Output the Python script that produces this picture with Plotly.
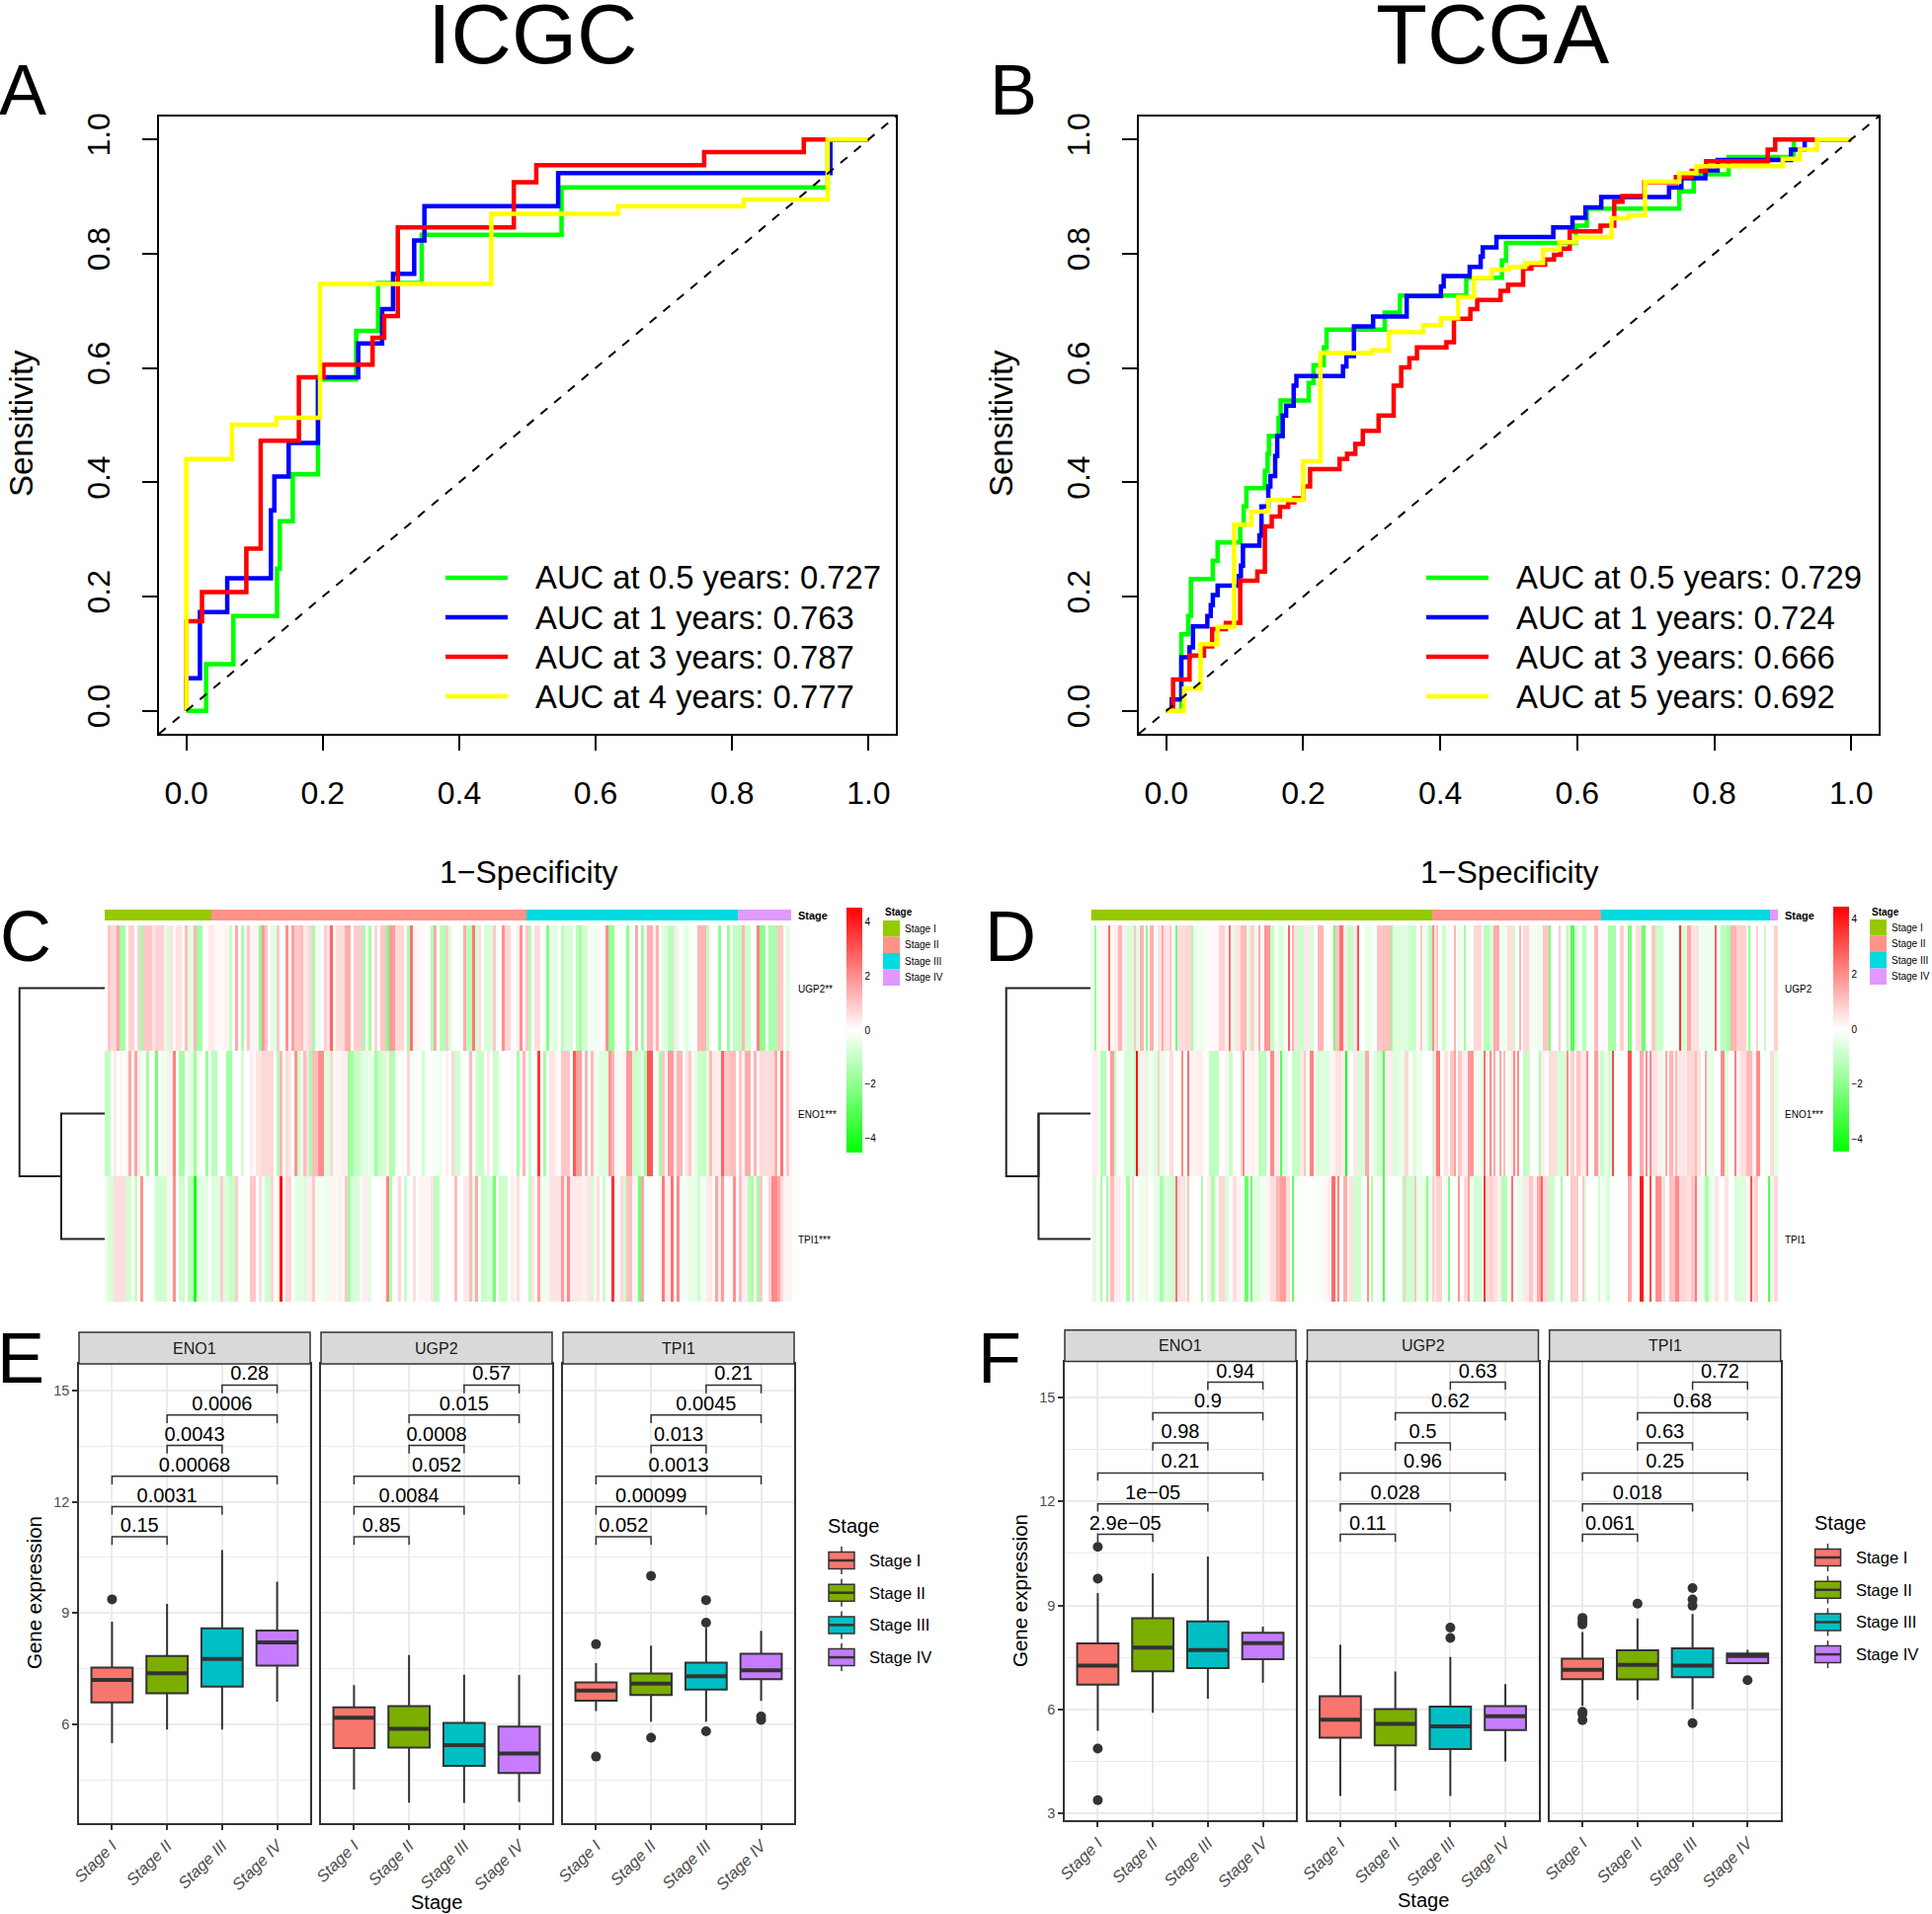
import plotly.graph_objects as go

W, H = 1956, 1938
FONT = "Liberation Sans"

# ---------- ROC data (false positive rate, sensitivity) ----------
a_g_x = [0,.029,.069,.133,.137,.156,.193,.249,.281,.345,.55,.94,1]
a_g_y = [0,.082,.166,.249,.332,.414,.58,.665,.749,.833,.916,1,1]
a_b_x = [0,0,.020,.060,.124,.129,.150,.193,.252,.287,.303,.334,.349,.545,.944,1]
a_b_y = [0,.057,.173,.232,.351,.410,.469,.584,.643,.703,.765,.823,.883,.941,1,1]
a_r_x = [0,0,.023,.088,.109,.165,.201,.273,.290,.310,.480,.513,.759,.905,1]
a_r_y = [0,.157,.208,.284,.473,.584,.606,.653,.691,.846,.925,.955,.978,1,1]
a_y_x = [0,0,.067,.132,.196,.447,.633,.817,.940,1]
a_y_y = [0,.441,.501,.513,.747,.870,.883,.895,1,1]

b_g_x = [0,.022,.032,.036,.068,.075,.108,.113,.117,.144,.148,.150,.164,.167,.208,.215,.230,.234,.319,.341,.438,.490,.496,.598,.614,.749,.770,.821,.916,1]
b_g_y = [0,.134,.166,.231,.263,.295,.326,.358,.390,.420,.450,.481,.513,.543,.574,.605,.636,.667,.697,.727,.758,.788,.819,.849,.879,.909,.939,.969,1,1]
b_b_x = [0,.008,.022,.034,.039,.060,.065,.068,.075,.106,.109,.112,.136,.139,.149,.152,.159,.162,.170,.175,.186,.190,.258,.263,.274,.302,.351,.401,.405,.443,.459,.462,.482,.565,.593,.612,.635,.734,.752,.787,.805,.912,.932,1]
b_b_y = [0,.020,.094,.111,.148,.166,.185,.203,.219,.236,.254,.289,.307,.358,.393,.411,.446,.481,.517,.534,.569,.586,.603,.621,.673,.690,.726,.743,.761,.777,.795,.811,.829,.846,.863,.881,.899,.916,.932,.946,.964,.982,1,1]
b_r_x = [0,.010,.034,.055,.067,.087,.108,.133,.144,.154,.166,.178,.187,.200,.210,.253,.264,.276,.287,.310,.332,.343,.355,.366,.409,.420,.444,.454,.488,.499,.521,.533,.553,.566,.576,.589,.634,.654,.666,.698,.744,.767,.788,.878,.889,1]
b_r_y = [0,.055,.097,.113,.143,.154,.228,.244,.323,.340,.357,.365,.372,.393,.423,.441,.450,.467,.490,.517,.569,.601,.617,.636,.645,.686,.703,.719,.735,.746,.774,.781,.790,.798,.809,.839,.849,.891,.901,.925,.934,.945,.962,.982,1,1]
b_y_x = [0,.026,.050,.075,.099,.124,.149,.200,.225,.300,.325,.375,.401,.426,.449,.475,.500,.524,.550,.574,.598,.650,.675,.699,.749,.774,.900,.925,.950,1]
b_y_y = [0,.039,.117,.147,.326,.349,.369,.437,.626,.631,.663,.675,.687,.724,.758,.772,.777,.784,.807,.820,.829,.862,.867,.926,.941,.953,.966,.982,1,1]

roc_colors = ["#00FF00", "#0000FF", "#FF0000", "#FFFF00"]
a_legend = ["AUC at 0.5 years: 0.727", "AUC at 1 years: 0.763", "AUC at 3 years: 0.787", "AUC at 4 years: 0.777"]
b_legend = ["AUC at 0.5 years: 0.729", "AUC at 1 years: 0.724", "AUC at 3 years: 0.666", "AUC at 5 years: 0.692"]

# ---------- Heat map C: (number of samples, z-score), left and right halves ----------
c_ugp2_a = [(1,0),(1,1.0),(2,.7),(1,1.6),(2,-1.6),(1,.1),(2,.8),(1,0),(1,.8),(1,-1.6),(3,1.0),(1,.5),(3,.8),(1,.3),(1,-.8),(1,.5),(1,.1),(2,.5),(1,.1),(1,1.2),(2,-.5),(1,1.3),(2,-1.6),(2,0),(2,.4),(3,.1),(2,.2),(1,-1),(1,0),(1,1.5),(1,0),(1,-1.5),(1,.1),(1,1.0),(3,.2),(1,-2),(1,1.8),(1,1.0),(1,0),(2,-.5),(1,1.0),(2,0),(1,2),(1,.2),(1,1.7),(2,1.0),(1,1.2),(1,.4),(1,.5),(1,.8),(1,-1.6),(1,0),(1,-.3),(1,0),(1,.9),(1,.5),(1,2.7),(1,-.3),(3,.6),(2,1.5),(1,0),(3,.9),(1,-1.6),(1,0),(1,-1.6),(1,0),(1,.8),(1,0),(2,1.0),(1,-2.2),(2,1.8),(3,.7),(1,0),(1,-1.5),(1,2.5),(2,.2),(2,.1),(2,0),(1,-1.3),(1,1.5),(1,0),(2,-1.3),(1,.9)]
c_eno1_a = [(2,-1.1),(1,0),(1,.4),(1,0),(1,.2),(1,0),(1,.2),(1,1.5),(1,.1),(1,1.6),(1,.3),(1,-.3),(1,.1),(1,-1.6),(2,-.1),(1,-2.5),(1,0),(2,-.3),(2,.3),(1,2.3),(1,0),(2,-1.6),(1,0),(2,-.5),(1,-1.8),(1,-.3),(2,0),(1,-1.8),(1,0),(2,-1.2),(3,0),(2,-1.6),(1,-.2),(2,0),(1,-.8),(2,0),(1,.3),(1,.1),(2,.5),(4,.7),(1,0),(1,-1.3),(1,1.3),(1,.1),(1,.6),(1,.4),(1,0),(1,1.9),(1,-1),(1,.2),(1,1.2),(1,.6),(1,-1.6),(2,1.2),(2,2.0),(2,-.6),(1,.7),(1,-.3),(2,.2),(2,.3),(2,-1.7),(2,-1),(1,-.7),(2,-.5),(2,-.4),(1,-1.7),(1,-1),(2,-.8),(1,.3),(2,-1.4),(2,-.1),(1,.1),(1,0),(1,.8),(1,-.2),(3,-.1),(1,-.8),(3,-.05),(2,-.2),(1,-.3),(1,0),(1,.3)]
c_tpi1_a = [(1,-.3),(2,-.7),(4,.6),(2,-.8),(1,.1),(1,-1),(1,0),(1,2),(4,-.1),(4,-.8),(2,.2),(1,2),(1,0),(2,-.9),(1,.1),(2,-1.2),(1,-4.2),(1,-.6),(3,-.5),(1,0),(3,-.6),(1,.9),(2,-.6),(2,-1),(1,.9),(1,.1),(1,0),(2,-.1),(2,1),(1,0),(1,.6),(1,-.2),(2,-.9),(1,.8),(1,0),(1,.2),(1,4.4),(1,.1),(2,.8),(1,-.1),(3,-.5),(1,-.7),(2,.3),(1,1),(3,-.2),(2,-.3),(2,.2),(1,-.2),(1,.3),(1,.1),(1,1),(1,-1.6),(3,-.7),(1,-.2),(2,.3),(1,-.6),(3,0),(2,.1),(1,2.2),(1,-1.5),(1,0),(1,.1),(1,.7),(1,0),(1,-1),(2,0),(1,.6),(1,0),(4,.2),(1,.5),(2,-1.2),(2,0),(1,.1)]
c_ugp2_b = [(1,-.6),(3,-.1),(1,-.1),(1,1.5),(2,-1.2),(1,2.4),(1,-.8),(1,.6),(1,0),(3,-.7),(1,1),(2,0),(1,2),(2,.7),(2,0),(1,.3),(1,2),(1,0),(1,1),(1,-1.3),(1,0),(2,.6),(1,0),(1,-.2),(1,-2.2),(1,-.2),(2,-.5),(1,0),(1,-1.2),(3,-.7),(1,0),(1,-1.2),(1,-1.6),(2,-.8),(1,.1),(3,-.2),(2,.1),(1,2),(2,-1.9),(1,-.2),(1,0),(2,-.1),(1,-2),(1,-.3),(1,0),(1,1.6),(1,0),(1,-1.7),(1,.2),(2,1.4),(1,.3),(1,1.4),(1,0),(2,-.6),(2,-1.2),(1,.4),(1,-.4),(1,0),(1,-.3),(1,-.6),(3,-.1),(3,1.3),(1,-1.2),(1,.2),(2,0),(1,-2),(2,0),(1,-1.8),(1,-.2),(3,-1.1),(1,1.3),(2,-.9),(2,0),(1,2.2),(2,-2),(1,0),(3,-1.5),(2,1),(1,-.1),(1,-.6),(1,-.1)]
c_eno1_b = [(1,0),(1,.7),(2,-.8),(3,-.1),(1,1.2),(1,-.1),(1,-.7),(2,-1),(1,0),(1,.4),(1,-.1),(2,-.9),(4,0),(1,.2),(1,0),(1,-1.6),(1,0),(1,1.3),(1,0),(1,-1),(2,0),(1,3.5),(1,-.1),(1,-1.6),(1,0),(2,.5),(2,.1),(3,1),(1,0),(1,3),(2,1.7),(1,0),(1,1.4),(1,0),(1,1.2),(2,-.3),(3,-.6),(1,1.9),(1,1.3),(1,.2),(2,-.2),(1,.2),(2,1.8),(3,-.9),(1,-.3),(1,-1.6),(2,3),(1,0),(1,.2),(1,-1.6),(1,1),(1,.2),(2,1.8),(1,.3),(2,1.3),(1,-.1),(1,.5),(1,1),(1,-.2),(1,-.5),(3,-1),(1,-.5),(1,1.2),(2,.4),(1,.3),(1,2.8),(2,1),(2,1.2),(1,0),(1,1),(1,.2),(2,1.5),(1,0),(1,1.3),(1,.2),(5,.6),(1,1.5),(1,0),(1,2.5),(1,0),(1,1),(1,.2)]
c_tpi1_b = [(2,0),(1,1.2),(2,0),(2,.4),(1,1.2),(1,-.6),(1,1.5),(1,0),(2,-1),(2,-.7),(1,-2.5),(1,.1),(3,-.9),(1,0),(1,.3),(1,.2),(1,.6),(1,.1),(2,0),(1,-1.2),(1,.5),(1,0),(1,1.7),(3,-.3),(4,.5),(1,1.8),(1,.3),(1,2.1),(4,.4),(2,.3),(1,.5),(1,-.8),(1,.2),(1,.6),(1,0),(1,-1),(2,0),(1,3.7),(2,.1),(1,.7),(1,-.9),(2,1.1),(1,.2),(1,-.3),(1,-2.5),(1,1.6),(5,-.05),(1,-.2),(1,2.4),(2,.3),(1,2.5),(1,.1),(1,2.1),(3,-.2),(3,-.4),(1,-1),(2,-.2),(2,.4),(1,-.2),(1,1.6),(1,.3),(1,1.8),(3,.1),(1,2),(1,.1),(1,1.2),(2,.3),(1,-1.3),(1,-1.5),(1,.3),(1,-1.6),(1,1),(2,0),(1,.8),(2,2.1),(1,1.6),(1,.7),(3,.2)]
c_half = 116
c_stage_counts = [36, 106, 71, 18]
c_genes = ["UGP2**", "ENO1***", "TPI1***"]
c_merge_height = .51

# ---------- Heat map D: (last sample of the run, z-score), left and right halves ----------
d_ugp2_a = [(2,-.3),(3,-1.8),(5,-.1),(9,.2),(10,2.7),(12,-.2),(14,.3),(16,1.3),(18,.3),(22,-.7),(23,1),(25,-.5),(27,1.3),(28,-.2),(29,-2),(30,0),(32,1.4),(34,-.2),(36,.5),(37,1.5),(40,.5),(41,1),(43,.1),(44,-2.3),(48,.6),(51,.7),(52,-1.5),(58,-.3),(65,.1),(68,.8),(70,.3),(71,2.5),(73,-.4),(76,.5),(79,1.2),(81,-.5),(83,.8),(85,-.3),(86,1.5),(88,.1),(91,1.8),(93,-1),(95,-.2),(98,-.6),(100,-.1),(101,2.8),(102,0),(103,1.4),(105,.5),(108,-.9),(111,.4),(113,-.7),(115,.1),(118,1.3),(122,0),(123,.3),(124,-2.3),(126,1),(128,2.5),(130,.3),(133,-1),(135,.4),(136,3),(139,0),(142,-.4),(145,-.1),(148,1.0),(152,1.1),(153,-1.8),(155,-.5),(161,-.6),(165,-.9),(167,.1),(168,1),(171,-.3),(173,-1.2),(174,2)]
d_eno1_a = [(1,0),(4,.3),(5,-.1),(8,-1.3),(10,0),(12,1.7),(13,-1),(17,0),(20,-.7),(22,-.5),(23,-1),(24,4.2),(25,-.6),(28,.3),(29,-.7),(32,-.3),(34,-.6),(35,.8),(38,-.4),(40,0),(42,.6),(46,-.1),(47,2),(49,0),(50,2.5),(53,.2),(57,.3),(60,.05),(65,-1.1),(68,0),(70,.2),(72,-1),(76,0),(77,.8),(78,2),(79,-.2),(82,.2),(83,.3),(85,.1),(89,-1.1),(91,-.1),(93,2),(96,.3),(97,-3),(100,-.5),(102,0),(106,-1),(108,.4),(109,1),(111,-.3),(113,2.2),(114,.1),(121,-.6),(124,.2),(127,.5),(129,.3),(130,-4.4),(133,0),(135,.4),(139,-.7),(141,1.5),(143,.1),(145,-.5),(148,-.9),(149,-3),(153,.3),(156,-.6),(159,-.4),(161,.7),(163,-.1),(165,-.6),(168,-.3),(173,0),(174,-.8)]
d_tpi1_a = [(1,0),(3,-.6),(5,0),(6,-1.5),(8,0),(9,-1.6),(10,.3),(12,1.2),(15,.3),(18,.1),(20,-1.6),(21,.1),(22,.8),(24,0),(28,-.3),(29,.3),(32,-.1),(35,-.4),(37,-1.5),(40,-.6),(43,-.8),(44,2.5),(48,.5),(49,-.5),(50,1),(53,-.1),(56,0),(57,-1.5),(59,0),(61,.3),(63,-1.4),(65,-.2),(68,.7),(70,-.7),(72,-.1),(74,.6),(76,.2),(78,-.2),(80,-2.6),(81,0),(82,-2.5),(86,-.5),(89,-.2),(91,.2),(94,.6),(96,1.3),(99,1.7),(101,.6),(102,0),(103,-2.8),(108,-.1),(114,0),(117,-.1),(120,.1),(122,.3),(124,2.6),(125,.3),(126,2.2),(128,0),(130,1.4),(131,-.3),(133,.5),(137,-.8),(140,-.2),(141,2),(142,-.3),(143,-1.4),(145,.1),(148,-.2),(149,-3),(153,-.1),(158,-.05),(159,-1.5),(160,.7),(164,-.8),(165,1),(170,-.4),(171,-2),(173,-.3),(174,.8)]
d_ugp2_b = [(1,.5),(2,1),(4,-.1),(6,-.9),(7,.1),(8,-.3),(10,.1),(11,1.3),(12,0),(13,-.5),(15,.1),(16,-1.7),(20,-.1),(24,.7),(25,-.2),(28,-1.2),(30,-.7),(33,1.5),(34,0),(37,-.3),(40,.6),(41,-.9),(43,0),(44,1.3),(45,0),(48,.7),(49,.2),(52,-.2),(55,-.3),(58,1),(59,-2.3),(63,0),(64,.9),(67,-.1),(68,-1.2),(69,.3),(71,-3),(73,-.6),(75,-.2),(77,-1.2),(80,-.2),(81,0),(83,1.2),(88,.1),(92,-1.5),(94,0),(96,.8),(98,.1),(100,-2.3),(102,0),(105,.6),(107,-2.5),(110,0),(112,1),(116,-.9),(124,-.1),(125,3.5),(128,-.7),(130,1.5),(134,.5),(142,-.3),(143,2.8),(145,-.2),(148,-1.2),(150,-1.5),(153,1.3),(158,.8),(159,0),(160,-2),(163,-.1),(164,.8),(167,0),(168,-1),(172,0),(174,.8)]
d_eno1_b = [(1,.5),(3,2.3),(5,0),(7,.5),(8,.1),(10,1),(11,1.7),(12,0),(14,1),(17,.3),(20,1.8),(21,-.2),(25,-.3),(26,2.5),(28,.2),(29,2),(30,.3),(31,1.5),(33,0),(34,1.5),(35,0),(36,1.2),(39,-.2),(40,.5),(41,2),(42,.1),(43,2),(45,0),(48,-1.1),(49,.3),(50,0),(53,-.1),(54,-1.5),(56,.3),(58,0),(62,.6),(67,-.7),(68,2),(69,.1),(71,.8),(72,-.1),(74,1),(77,.4),(78,2),(81,-.1),(83,1.7),(84,.3),(86,-.9),(88,-.4),(90,-.7),(91,3.2),(98,0),(100,3),(104,0),(106,1.5),(107,.3),(108,2),(109,0),(110,2.1),(113,.5),(115,.3),(117,-.3),(118,1.5),(119,.1),(121,1.3),(122,.3),(123,1.2),(128,.4),(132,.7),(133,1.2),(135,.5),(137,0),(138,1.5),(142,-.4),(145,0),(147,2),(149,-.5),(152,0),(153,2.2),(155,.2),(158,.6),(161,1.2),(162,.3),(163,0),(165,2),(170,-.1),(172,.6),(174,-.5)]
d_tpi1_b = [(1,.4),(4,.8),(6,-.2),(7,.2),(8,-2.2),(9,0),(12,-.1),(13,1.8),(15,0),(17,.7),(18,1.7),(20,-.3),(24,-.8),(25,.3),(26,3.5),(28,.6),(30,.8),(32,.5),(34,.3),(37,-1.3),(39,-.2),(40,2.5),(42,0),(45,-.4),(48,.4),(50,1),(52,.3),(54,1.5),(55,2.8),(58,.6),(61,-.9),(64,-.1),(65,-1.5),(69,-.1),(73,.9),(75,0),(76,1),(77,-.6),(79,-.1),(83,0),(84,-.9),(87,-.2),(89,-.7),(92,-.05),(98,0),(100,1.5),(104,-.1),(106,4),(109,.1),(110,3.2),(112,0),(115,2),(117,.6),(119,0),(122,1.1),(124,2),(128,.7),(130,.5),(132,1),(133,2.3),(135,.2),(137,-.4),(139,-1.5),(142,-.3),(144,.5),(147,0),(149,.5),(152,0),(154,-.7),(158,-.6),(160,.1),(161,3),(162,.4),(164,.8),(169,0),(170,-3),(172,-.3),(174,.7)]
d_stage_counts = [172, 85, 85, 4]
d_genes = ["UGP2", "ENO1***", "TPI1"]
d_merge_height = .616

stage_heat_colors = ["#96CA00", "#FF9289", "#00DAE0", "#E199FF"]
stages = ["Stage I", "Stage II", "Stage III", "Stage IV"]
box_colors = ["#F8766D", "#7CAE00", "#00BFC4", "#C77CFF"]
genes = ["ENO1", "UGP2", "TPI1"]

# ---------- Box plots: per gene, per stage (q1, median, q3, low whisker, high whisker) ----------
e_q1  = {"ENO1":[6.59,6.84,7.02,7.58], "UGP2":[5.36,5.37,4.88,4.69], "TPI1":[6.64,6.79,6.94,7.22]}
e_med = {"ENO1":[7.20,7.38,7.76,8.21], "UGP2":[6.18,5.88,5.44,5.21], "TPI1":[6.91,7.10,7.30,7.46]}
e_q3  = {"ENO1":[7.53,7.84,8.59,8.53], "UGP2":[6.46,6.49,6.04,5.94], "TPI1":[7.13,7.37,7.66,7.90]}
e_lo  = {"ENO1":[5.49,5.86,5.86,6.61], "UGP2":[4.24,3.89,3.88,3.91], "TPI1":[6.36,6.07,6.07,6.63]}
e_hi  = {"ENO1":[8.77,9.25,10.70,9.85], "UGP2":[7.06,7.87,7.34,7.33], "TPI1":[7.65,8.12,8.60,8.52]}
e_out = {"ENO1":[[9.37],[],[],[]], "UGP2":[[],[],[],[]], "TPI1":[[8.16,5.13],[10.0,5.64],[9.35,8.74,5.81],[6.21,6.12]]}
e_pvals = {"ENO1":["0.15","0.0031","0.00068","0.0043","0.0006","0.28"],
           "UGP2":["0.85","0.0084","0.052","0.0008","0.015","0.57"],
           "TPI1":["0.052","0.00099","0.0013","0.013","0.0045","0.21"]}
e_bracket_y = [11.06,11.87,12.69,13.52,14.34,15.15]

f_q1  = {"ENO1":[6.71,7.10,7.19,7.45], "UGP2":[5.18,4.96,4.85,5.40], "TPI1":[6.87,6.86,6.93,7.33]}
f_med = {"ENO1":[7.26,7.78,7.71,7.91], "UGP2":[5.70,5.58,5.51,5.80], "TPI1":[7.14,7.28,7.26,7.54]}
f_q3  = {"ENO1":[7.90,8.63,8.54,8.21], "UGP2":[6.38,6.01,6.08,6.09], "TPI1":[7.46,7.70,7.76,7.61]}
f_lo  = {"ENO1":[5.38,5.90,6.31,6.77], "UGP2":[3.50,3.65,3.50,4.50], "TPI1":[6.10,6.27,6.00,7.33]}
f_hi  = {"ENO1":[9.36,9.93,10.41,8.39], "UGP2":[7.87,7.09,7.51,6.73], "TPI1":[8.23,8.62,8.75,7.72]}
f_out = {"ENO1":[[10.69,9.77,4.87,3.38],[],[],[]], "UGP2":[[],[],[8.36,8.06],[]],
         "TPI1":[[8.64,8.53,8.45,5.93,5.87,5.69],[9.05],[9.50,9.17,8.99,5.60],[6.84]]}
f_pvals = {"ENO1":["2.9e\u221205","1e\u221205","0.21","0.98","0.9","0.94"],
           "UGP2":["0.11","0.028","0.96","0.5","0.62","0.63"],
           "TPI1":["0.061","0.018","0.25","0.63","0.68","0.72"]}
f_bracket_y = [11.05,11.93,12.82,13.69,14.56,15.44]
bracket_pairs = [(1,2),(1,3),(1,4),(2,3),(2,4),(3,4)]
bracket_tip = .22


def xd(a, b):
    return [a / W, b / W]

def yd(top, bottom):
    return [1 - bottom / H, 1 - top / H]

def from_runs(runs, total):
    out = []
    for n, v in runs:
        out += [v] * n
    return (out + [0] * total)[:total]

def from_ends(pairs):
    out, prev = [], 0
    for end, v in pairs:
        out += [v] * (end - prev)
        prev = end
    return out

fig = go.Figure()
layout = {}
annotations = []
shapes = []
axis_no = [0]

def new_axes(xdict, ydict):
    axis_no[0] += 1
    n = axis_no[0]
    sx = "" if n == 1 else str(n)
    xdict = dict(xdict, anchor="y" + sx)
    ydict = dict(ydict, anchor="x" + sx)
    layout["xaxis" + sx] = xdict
    layout["yaxis" + sx] = ydict
    return "x" + sx, "y" + sx

def text(x, y, s, size, anchor="left", color="black", angle=0, bold=False):
    annotations.append(dict(x=x / W, y=1 - y / H, xref="paper", yref="paper", text=("<b>%s</b>" % s) if bold else s,
                            showarrow=False, xanchor=anchor, yanchor="middle", textangle=angle,
                            font=dict(family=FONT, size=size, color=color)))

def pline(x0, y0, x1, y1, color, width):
    shapes.append(dict(type="line", xref="paper", yref="paper", x0=x0 / W, x1=x1 / W,
                       y0=1 - y0 / H, y1=1 - y1 / H, line=dict(color=color, width=width)))

def prect(x0, y0, x1, y1, fill, line=None, width=0):
    shapes.append(dict(type="rect", xref="paper", yref="paper", x0=x0 / W, x1=x1 / W,
                       y0=1 - y0 / H, y1=1 - y1 / H, fillcolor=fill,
                       line=dict(color=line or fill, width=width)))

# ---------- ROC panels ----------
def roc_panel(left, right, curves, legend, line_x, text_x):
    ticks = [0, .2, .4, .6, .8, 1]
    common = dict(range=[-.04, 1.04], tickvals=ticks, tickformat=".1f", showgrid=False, zeroline=False,
                  showline=True, mirror=True, linecolor="black", linewidth=2,
                  ticks="outside", ticklen=15, tickwidth=2, tickcolor="black",
                  tickfont=dict(family=FONT, size=32, color="black"))
    xa, ya = new_axes(dict(common, domain=xd(left, right), ticklabelstandoff=16),
                      dict(common, domain=yd(118, 743), tickangle=-90, ticklabelstandoff=20))
    for (cx, cy), col in zip(curves, roc_colors):
        fig.add_trace(go.Scatter(x=cx, y=cy, mode="lines", line=dict(color=col, width=4.5, shape="hv"),
                                 xaxis=xa, yaxis=ya, showlegend=False, hoverinfo="skip"))
    fig.add_trace(go.Scatter(x=[-.04, 1.04], y=[-.04, 1.04], mode="lines",
                             line=dict(color="black", width=2, dash="9px,9px"),
                             xaxis=xa, yaxis=ya, showlegend=False, hoverinfo="skip"))
    for i, (lab, col) in enumerate(zip(legend, roc_colors)):
        yy = 585 + 40 * i
        pline(line_x, yy, line_x + 63, yy, col, 4.5)
        text(text_x, yy, lab, 32.8)

roc_panel(161, 907, [(a_g_x, a_g_y), (a_b_x, a_b_y), (a_r_x, a_r_y), (a_y_x, a_y_y)], a_legend, 451, 540)
roc_panel(1153, 1902, [(b_g_x, b_g_y), (b_b_x, b_b_y), (b_r_x, b_r_y), (b_y_x, b_y_y)], b_legend, 1444, 1533)

text(539, 34, "ICGC", 85, "center")
text(1511, 34, "TCGA", 85, "center")
for s, x, y in [("A", -3, 91), ("B", 1000, 91), ("C", -2, 948), ("D", 995, 948), ("E", -5, 1375), ("F", 988, 1375)]:
    text(x, y, s, 72)
for x in (21, 1013):
    text(x, 429, "Sensitivity", 33, "center", angle=-90)
for x in (535, 1528):
    text(x, 883, "1\u2212Specificity", 32, "center")

# ---------- Heat maps ----------
heat_scale = [[0, "#00FF00"], [.5, "#FFFFFF"], [1, "#FF0000"]]
stage_scale = []
for i, c in enumerate(stage_heat_colors):
    stage_scale += [[i / 4, c], [(i + 1) / 4, c]]
faint = dict(showgrid=False, zeroline=False, showticklabels=False, ticks="", showline=False)

def heat_panel(z, left, right, bar_left, bar_right, counts, labels, merge, dend_left, cb_x, cb_top, cb_bottom,
               cb_zmax, label_x, lg_x, lg_top):
    ncol = len(z[0])
    xa, ya = new_axes(dict(faint, domain=xd(left, right), range=[-.5, ncol - .5]),
                      dict(faint, domain=yd(937, 1318), range=[2.5, -.5]))
    fig.add_trace(go.Heatmap(z=z, xaxis=xa, yaxis=ya, zmin=-cb_zmax, zmax=cb_zmax, colorscale=heat_scale,
                             hoverinfo="skip", xgap=0, ygap=0,
                             colorbar=dict(x=cb_x / W, xanchor="left", xpad=0, y=1 - cb_top / H, yanchor="top", ypad=0,
                                           len=cb_bottom - cb_top, lenmode="pixels", thickness=16, thicknessmode="pixels",
                                           outlinewidth=0, ticks="", tickvals=[4, 2, 0, -2, -4],
                                           ticktext=["4", "2", "0", "\u22122", "\u22124"],
                                           tickfont=dict(family=FONT, size=10, color="black"))))
    row = []
    for i, n in enumerate(counts):
        row += [i + .5] * n
    xb, yb = new_axes(dict(faint, domain=xd(bar_left, bar_right), range=[-.5, len(row) - .5]),
                      dict(faint, domain=yd(921, 932), range=[-.5, .5]))
    fig.add_trace(go.Heatmap(z=[row], xaxis=xb, yaxis=yb, zmin=0, zmax=4, colorscale=stage_scale,
                             showscale=False, hoverinfo="skip"))
    xc, yc = new_axes(dict(faint, domain=xd(dend_left, left), range=[1.02, 0]),
                      dict(faint, domain=yd(937, 1318), range=[2.5, -.5]))
    fig.add_trace(go.Scatter(x=[0, 1, 1, merge, merge, 0, None, merge, merge, 0],
                             y=[0, 0, 1.5, 1.5, 1, 1, None, 1, 2, 2], mode="lines",
                             line=dict(color="#222222", width=2), xaxis=xc, yaxis=yc,
                             showlegend=False, hoverinfo="skip", cliponaxis=False))
    text(label_x, 927, "Stage", 11, bold=True)
    for lab, yy in zip(labels, (1001, 1128, 1255)):
        text(label_x, yy, lab, 10)
    text(lg_x, lg_top - 8, "Stage", 10, bold=True)
    for i, (c, s) in enumerate(zip(stage_heat_colors, stages)):
        y0 = lg_top + 16.5 * i
        prect(lg_x, y0, lg_x + 17, y0 + 16.5, c)
        text(lg_x + 20, y0 + 8, s, 10)

c_z = [from_runs(c_ugp2_a, c_half) + from_runs(c_ugp2_b, c_half),
       from_runs(c_eno1_a, c_half) + from_runs(c_eno1_b, c_half),
       from_runs(c_tpi1_a, c_half) + from_runs(c_tpi1_b, c_half)]
d_z = [from_ends(d_ugp2_a) + from_ends(d_ugp2_b),
       from_ends(d_eno1_a) + from_ends(d_eno1_b),
       from_ends(d_tpi1_a) + from_ends(d_tpi1_b)]

heat_panel(c_z, 106, 802, 106, 801, c_stage_counts, c_genes, c_merge_height, 18, 857, 919, 1167, 4.55, 806, 894, 932)
heat_panel(d_z, 1104, 1800, 1104.5, 1800, d_stage_counts, d_genes, d_merge_height, 1017, 1855.5, 918, 1166, 4.45, 1805, 1893, 931)

# ---------- Box plots ----------
def box_panel(q1, med, q3, lo, hi, out, pvals, bracket_y, panels, top_strip, top, bottom, yrange, major, minor,
              ytitle_x, ytitle_y, xtitle_x, xtitle_y, lg_x, lg_title_y, lg_rows):
    for idx, (gene, (left, right)) in enumerate(zip(genes, panels)):
        grid = dict(showgrid=True, gridcolor="#EBEBEB", gridwidth=2, zeroline=False, showline=True, mirror=True,
                    linecolor="#333333", linewidth=1.5, ticks="outside", ticklen=5, tickwidth=1.5, tickcolor="#333333")
        xa, ya = new_axes(
            dict(grid, domain=xd(left, right), range=[.4, 4.6], tickvals=[1, 2, 3, 4], ticktext=stages, tickangle=-45,
                 tickfont=dict(family=FONT, size=16.5, color="#4D4D4D", style="italic")),
            dict(grid, domain=yd(top, bottom), range=yrange, tickvals=major, showticklabels=idx == 0,
                 ticks="outside" if idx == 0 else "",
                 minor=dict(tickvals=minor, showgrid=True, gridcolor="#EBEBEB", gridwidth=1, ticks=""),
                 tickfont=dict(family=FONT, size=14.5, color="#4D4D4D")))
        for k in range(4):
            fig.add_trace(go.Box(x=[k + 1], q1=[q1[gene][k]], median=[med[gene][k]], q3=[q3[gene][k]],
                                 lowerfence=[lo[gene][k]], upperfence=[hi[gene][k]], width=.75, whiskerwidth=0,
                                 fillcolor=box_colors[k], line=dict(color="#333333", width=2), boxpoints=False,
                                 xaxis=xa, yaxis=ya, showlegend=False, hoverinfo="skip"))
            fig.add_trace(go.Scatter(x=[k + 1 - .375, k + 1 + .375], y=[med[gene][k], med[gene][k]], mode="lines",
                                     line=dict(color="#333333", width=4), xaxis=xa, yaxis=ya,
                                     showlegend=False, hoverinfo="skip"))
            if out[gene][k]:
                fig.add_trace(go.Scatter(x=[k + 1] * len(out[gene][k]), y=out[gene][k], mode="markers",
                                         marker=dict(color="#333333", size=10), xaxis=xa, yaxis=ya,
                                         showlegend=False, hoverinfo="skip"))
        bx, by = [], []
        for (a, b), h in zip(bracket_pairs, bracket_y):
            bx += [a, a, b, b, None]
            by += [h - bracket_tip, h, h, h - bracket_tip, None]
        fig.add_trace(go.Scatter(x=bx, y=by, mode="lines", line=dict(color="#333333", width=1.5),
                                 xaxis=xa, yaxis=ya, showlegend=False, hoverinfo="skip"))
        fig.add_trace(go.Scatter(x=[(a + b) / 2 for a, b in bracket_pairs], y=bracket_y, mode="text",
                                 text=pvals[gene], textposition="top center", cliponaxis=False,
                                 textfont=dict(family=FONT, size=20, color="black"),
                                 xaxis=xa, yaxis=ya, showlegend=False, hoverinfo="skip"))
        prect(left, top_strip, right, top, "#D9D9D9", "#333333", 1.5)
        text((left + right) / 2, (top_strip + top) / 2, gene, 16, "center", "#1A1A1A")
    text(ytitle_x, ytitle_y, "Gene expression", 20.5, "center", angle=-90)
    text(xtitle_x, xtitle_y, "Stage", 20, "center")
    text(lg_x - 3, lg_title_y, "Stage", 20)
    for i, (c, s) in enumerate(zip(box_colors, stages)):
        yy = lg_rows + 32.7 * i
        mid = lg_x + 13
        pline(mid, yy - 14, mid, yy + 14, "#333333", 1.5)
        prect(lg_x, yy - 8.5, lg_x + 26, yy + 8.5, c, "#333333", 1.5)
        pline(lg_x, yy, lg_x + 26, yy, "#333333", 2.5)
        text(lg_x + 39, yy, s, 16.5)

box_panel(e_q1, e_med, e_q3, e_lo, e_hi, e_out, e_pvals, e_bracket_y,
          [(80, 314), (325, 559), (570, 804)], 1349, 1381, 1846, [3.335, 15.72], [6, 9, 12, 15], [4.5, 7.5, 10.5, 13.5],
          34, 1613, 442, 1926, 839, 1545, 1580)
box_panel(f_q1, f_med, f_q3, f_lo, f_hi, f_out, f_pvals, f_bracket_y,
          [(1078, 1312), (1323.5, 1557.5), (1568.7, 1802.7)], 1346.7, 1378.5, 1843.4, [2.79, 16.04], [3, 6, 9, 12, 15], [4.5, 7.5, 10.5, 13.5],
          1032, 1611, 1440.5, 1923.6, 1837.5, 1542, 1577)

fig.update_layout(width=W, height=H, margin=dict(l=0, r=0, t=0, b=0, autoexpand=False), paper_bgcolor="white", plot_bgcolor="white",
                  boxmode="overlay", showlegend=False, font=dict(family=FONT), annotations=annotations, shapes=shapes,
                  **layout)
fig.write_html("out.html", post_script="document.body.style.margin='0';document.documentElement.style.overflow='hidden';",
               config=dict(displayModeBar=False))
